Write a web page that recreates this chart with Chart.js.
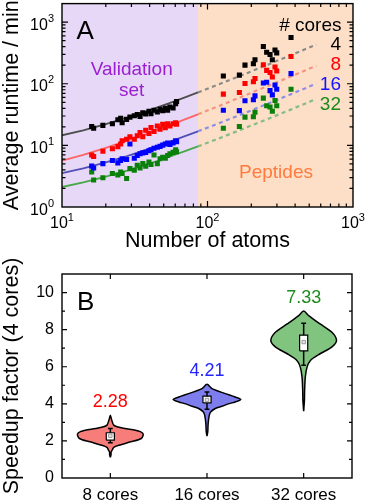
<!DOCTYPE html>
<html><head><meta charset="utf-8">
<script src="https://cdn.jsdelivr.net/npm/chart.js@4/dist/chart.umd.min.js"></script>
<style>
html,body{margin:0;padding:0;background:#fff;width:368px;height:502px;overflow:hidden}
canvas{display:block}
</style></head><body>
<canvas id="top" width="368" height="255"></canvas>
<canvas id="bot" width="368" height="247"></canvas>
<script>
// ---------- Panel A data ----------
const coreCounts = ['4', '8', '16', '32'];
const regionSplit = 86; // atoms: validation set | peptides
const valN  = [16, 16.5, 19.1, 22.2, 24.2, 25.3, 25.9, 27.8, 29.3, 31.4, 32.9, 34.4, 35.9, 37.6, 39.6, 40.9, 42.9, 45.2, 47.2, 49.2, 51.3, 53.2, 55.2, 58, 60.4, 61.3];
const val4  = [20.2, 19.0, 21.1, 22.5, 26.1, 27.4, 23.3, 26.4, 28.7, 30.2, 31.7, 29.4, 33.7, 32.5, 35.7, 32.6, 37.1, 35.0, 38.5, 36.7, 39.9, 37.1, 42.0, 40.5, 47.4, 51.6];
const val8  = [7.0, 6.6, 8.05, 8.8, 9.55, 10.5, 11.9, 12.6, 13.8, 12.6, 14.3, 16.2, 13.8, 17.6, 15.6, 19.4, 16.8, 20.6, 18.3, 21.9, 19.4, 22.5, 20.6, 22.5, 23.3, 22.0];
const val16 = [4.6, 4.3, 5.05, 5.7, 5.2, 5.7, 6.07, 5.9, 10.5, 6.2, 6.86, 7.3, 7.55, 7.7, 8.2, 8.5, 9.0, 9.3, 9.65, 10.1, 10.5, 10.9, 10.4, 11.0, 11.9, 11.5];
const val32 = [3.7, 2.74, 2.99, 3.5, 3.3, 3.7, 3.5, 2.9, 4.2, 3.95, 4.75, 4.3, 5.05, 4.6, 5.37, 4.9, 7.0, 5.05, 6.07, 6.4, 6.2, 6.86, 7.3, 7.7, 8.5, 7.9];
const pepN  = [128.5, 165.6, 181, 206.7, 212, 242, 255, 269, 279, 291, 299, 375];
const pep4  = [134, 138, 201, 211, 245, 403, 324, 298, 245, 354, 317, 562];
const pep8  = [67.8, 72.0, 101, 108, 122, 204, 165, 152, 129, 187, 161, 277];
const pep16 = [37.1, 36.7, 53, 55, 63.6, 103, 106, 77.4, 66, 95.3, 81.4, 146];
const pep32 = [19.0, 20.2, 28.7, 29.1, 34.5, 58.5, 44.1, 42.0, 35.8, 53.6, 44.1, 81.4];
const fitN  = [10, 14, 20, 28, 40, 56, 70, 86];
const fit4  = [14.6, 17.6, 22.2, 28.3, 37.4, 49.6, 60.2, 72.4];
const fit8  = [5.66, 7.04, 9.12, 11.9, 16.0, 21.6, 26.4, 31.9];
const fit16 = [3.55, 4.25, 5.31, 6.72, 8.83, 11.65, 14.1, 16.9];
const fit32 = [2.11, 2.51, 3.10, 3.89, 5.08, 6.66, 8.05, 9.63];
const extN  = [86, 120, 170, 250, 370, 560];
const ext4  = [72.4, 98.2, 136, 197, 288, 433];
const ext8  = [31.9, 43.7, 61.0, 88.7, 130, 196];
const ext16 = [16.9, 22.9, 31.7, 45.8, 66.9, 100.4];
const ext32 = [9.63, 13.0, 18.0, 25.9, 37.7, 56.6];
const xMajor = [10, 100, 1000];
const yMajor = [1, 10, 100, 1000];

// ---------- Panel B data ----------
const coreLabels = ['8 cores', '16 cores', '32 cores'];
const v8Y  = [1.11, 1.25, 1.4, 1.51, 1.65, 1.77, 1.95, 2.13, 2.37, 2.5, 2.58, 2.67, 2.76, 2.85, 3.03, 3.2, 3.39];
const v8W  = [0, 0.007, 0.008, 0.02, 0.035, 0.09, 0.21, 0.32, 0.34, 0.31, 0.26, 0.15, 0.07, 0.035, 0.02, 0.01, 0];
const v16Y = [2.26, 2.5, 2.94, 3.39, 3.57, 3.75, 3.87, 4.01, 4.10, 4.23, 4.37, 4.55, 4.82, 5.05];
const v16W = [0, 0.008, 0.012, 0.024, 0.04, 0.086, 0.155, 0.23, 0.29, 0.35, 0.29, 0.19, 0.052, 0];
const v32Y = [3.6, 4.2, 4.73, 5.45, 5.98, 6.34, 6.70, 7.06, 7.42, 7.87, 8.31, 8.76, 9.0];
const v32W = [0, 0.008, 0.01, 0.017, 0.035, 0.07, 0.17, 0.29, 0.34, 0.29, 0.17, 0.052, 0];
const boxQ1   = [2.04, 4.05, 6.86];
const boxQ3   = [2.44, 4.41, 7.70];
const whiskLo = [1.90, 3.71, 6.08];
const whiskHi = [2.67, 4.64, 8.35];
const speedupMean = [2.28, 4.21, 7.33];

// ---------- styles ----------
const FONT = "'Liberation Sans', Arial, Helvetica, sans-serif";
Chart.defaults.font.family = FONT;
Chart.defaults.color = '#000';
const seriesColors = ['#000000', '#FF0000', '#0000FF', '#0A800A'];
const fitColors = ['#4E4E4E', '#FF6464', '#5050B8', '#48A848'];
const extColors = ['#8A8A8A', '#F59383', '#8E8EE6', '#86BC86'];
const labelColors = ['#000000', '#FF0000', '#1414FF', '#1A8C1A'];
const violinFill = ['#F77D7B', '#7D7DEE', '#80C480'];
const meanColors = ['#FF0000', '#2424FF', '#1E8C1E'];

function ticksInside(ctx, a, scale, vals, len, horiz) {
  ctx.beginPath();
  vals.forEach(v => {
    const p = scale.getPixelForValue(v);
    if (horiz) {
      if (p <= a.left + 0.5 || p >= a.right - 0.5) return;
      ctx.moveTo(p, a.bottom); ctx.lineTo(p, a.bottom - len);
      ctx.moveTo(p, a.top); ctx.lineTo(p, a.top + len);
    } else {
      if (p >= a.bottom - 0.5 || p <= a.top + 0.5) return;
      ctx.moveTo(a.left, p); ctx.lineTo(a.left + len, p);
      ctx.moveTo(a.right, p); ctx.lineTo(a.right - len, p);
    }
  });
  ctx.stroke();
}
function logMinors(lo, hi) {
  const out = [];
  for (let d = lo; d < hi; d *= 10) for (let k = 2; k <= 9; k++) out.push(d * k);
  return out;
}

// ---------- Panel A ----------
const topDecor = {
  id: 'topDecor',
  beforeDatasetsDraw(chart) {
    const {ctx, chartArea: a, scales: {x}} = chart;
    const xs = x.getPixelForValue(regionSplit);
    ctx.save();
    ctx.fillStyle = '#E7D8F7';
    ctx.fillRect(a.left, a.top, xs - a.left, a.bottom - a.top);
    ctx.fillStyle = '#FDDFC7';
    ctx.fillRect(xs, a.top, a.right - xs, a.bottom - a.top);
    ctx.textAlign = 'center';
    ctx.textBaseline = 'alphabetic';
    ctx.font = '19px ' + FONT;
    ctx.fillStyle = '#9B1FD1';
    ctx.fillText('Validation', 131.7, 75);
    ctx.fillText('set', 131.7, 95.5);
    ctx.fillStyle = '#FF7A3C';
    ctx.fillText('Peptides', 276, 178.3);
    ctx.restore();
  },
  afterDatasetsDraw(chart) {
    const {ctx, chartArea: a, scales: {x, y}} = chart;
    ctx.save();
    ctx.strokeStyle = '#000';
    ctx.lineWidth = 1.2;
    ticksInside(ctx, a, x, xMajor, 6, true);
    ticksInside(ctx, a, x, logMinors(10, 1000), 3.5, true);
    ticksInside(ctx, a, y, yMajor, 6, false);
    ticksInside(ctx, a, y, logMinors(1, 1000), 3.5, false);
    ctx.lineWidth = 1.4;
    ctx.strokeRect(a.left, a.top, a.right - a.left, a.bottom - a.top);
    // panel letter and legend
    ctx.fillStyle = '#000';
    ctx.textBaseline = 'alphabetic';
    ctx.textAlign = 'left';
    ctx.font = '26px ' + FONT;
    ctx.fillText('A', 76.5, 39.3);
    ctx.textAlign = 'right';
    ctx.font = '19px ' + FONT;
    ctx.fillText('# cores', 341.5, 30.7);
    coreCounts.forEach((c, i) => {
      ctx.fillStyle = labelColors[i];
      ctx.fillText(c, 341, 50 + 20 * i);
    });
    ctx.restore();
  },
  afterDraw(chart) {
    const {ctx, scales: {x, y}} = chart;
    ctx.save();
    ctx.fillStyle = '#000';
    ctx.textBaseline = 'alphabetic';
    ctx.textAlign = 'left';
    const big = '16px ' + FONT, small = '11px ' + FONT;
    xMajor.forEach(v => {
      const e = String(Math.round(Math.log10(v)));
      ctx.font = big; const w1 = ctx.measureText('10').width;
      ctx.font = small; const w2 = ctx.measureText(e).width;
      const p = x.getPixelForValue(v);
      const s = p - (w1 + w2) / 2;
      ctx.font = big; ctx.fillText('10', s, 228.3);
      ctx.font = small; ctx.fillText(e, s + w1, 220.5);
    });
    yMajor.forEach(v => {
      const e = String(Math.round(Math.log10(v)));
      ctx.font = big; const w1 = ctx.measureText('10').width;
      ctx.font = small; const w2 = ctx.measureText(e).width;
      const p = y.getPixelForValue(v);
      const s = 54 - (w1 + w2);
      ctx.font = big; ctx.fillText('10', s, p + 7.6);
      ctx.font = small; ctx.fillText(e, s + w1, p - 0.5);
    });
    ctx.restore();
  }
};

const valSets = [val4, val8, val16, val32];
const pepSets = [pep4, pep8, pep16, pep32];
const fitSets = [fit4, fit8, fit16, fit32];
const extSets = [ext4, ext8, ext16, ext32];
const topDatasets = [];
coreCounts.forEach((c, i) => {
  topDatasets.push({
    label: c + ' cores',
    data: valN.map((n, j) => ({x: n, y: valSets[i][j]})).concat(pepN.map((n, j) => ({x: n, y: pepSets[i][j]}))),
    showLine: false, pointStyle: 'rect', pointRadius: 3.6, pointHoverRadius: 3.6,
    backgroundColor: seriesColors[i], borderWidth: 0, order: 0
  });
});
coreCounts.forEach((c, i) => {
  topDatasets.push({
    label: c + ' fit',
    data: fitN.map((n, j) => ({x: n, y: fitSets[i][j]})),
    showLine: true, pointRadius: 0, borderColor: fitColors[i], borderWidth: 1.8, tension: 0, order: 1
  });
  topDatasets.push({
    label: c + ' extrapolation',
    data: extN.map((n, j) => ({x: n, y: extSets[i][j]})),
    showLine: true, pointRadius: 0, borderColor: extColors[i], borderWidth: 2.2, borderDash: [4, 3.5], tension: 0, order: 1
  });
});

new Chart(document.getElementById('top'), {
  type: 'scatter',
  data: {datasets: topDatasets},
  options: {
    responsive: false, animation: false, devicePixelRatio: 1,
    layout: {padding: {top: 2.5, right: 15, left: 0, bottom: 0}},
    plugins: {legend: {display: false}, tooltip: {enabled: false}},
    scales: {
      x: {
        type: 'logarithmic', min: 10, max: 1000,
        grid: {display: false, drawTicks: false}, border: {display: false},
        ticks: {display: false},
        afterFit: s => { s.height = 48; },
        title: {display: true, text: 'Number of atoms', font: {size: 21.5, lineHeight: 1.2}, padding: {top: 0, bottom: 1}}
      },
      y: {
        type: 'logarithmic', min: 1, max: 2000,
        grid: {display: false, drawTicks: false}, border: {display: false},
        ticks: {display: false},
        afterFit: s => { s.width = 62; },
        title: {display: true, text: 'Average runtime / min', font: {size: 21.5, lineHeight: 1.1}, padding: {top: 0, bottom: 0}}
      }
    }
  },
  plugins: [topDecor]
});

// ---------- Panel B ----------
const violinYs = [v8Y, v16Y, v32Y];
const violinWs = [v8W, v16W, v32W];
function violinOutline(c, ys, ws) {
  const left = ys.map((y, i) => ({x: c - ws[i], y}));
  const right = ys.map((y, i) => ({x: c + ws[i], y})).reverse();
  return left.concat(right.slice(1));
}
const boxHalf = 0.042, capHalf = 0.025;
const botDatasets = [];
coreLabels.forEach((lab, i) => {
  const c = i + 1;
  botDatasets.push({
    label: lab + ' violin', data: violinOutline(c, violinYs[i], violinWs[i]),
    showLine: true, fill: 'shape', backgroundColor: violinFill[i], borderColor: '#000', borderWidth: 1.5,
    pointRadius: 0, tension: 0.3, order: 3
  });
  botDatasets.push({
    label: lab + ' whiskers',
    data: [{x: c - capHalf, y: whiskHi[i]}, {x: c + capHalf, y: whiskHi[i]}, {x: c, y: whiskHi[i]},
           {x: c, y: whiskLo[i]}, {x: c - capHalf, y: whiskLo[i]}, {x: c + capHalf, y: whiskLo[i]}],
    showLine: true, borderColor: '#000', borderWidth: 1.5, pointRadius: 0, tension: 0, order: 2
  });
  botDatasets.push({
    label: lab + ' box',
    data: [{x: c - boxHalf, y: boxQ1[i]}, {x: c + boxHalf, y: boxQ1[i]}, {x: c + boxHalf, y: boxQ3[i]},
           {x: c - boxHalf, y: boxQ3[i]}, {x: c - boxHalf, y: boxQ1[i]}],
    showLine: true, fill: 'shape', backgroundColor: '#FFFFFF', borderColor: '#000', borderWidth: 1.2,
    pointRadius: 0, tension: 0, order: 1
  });
  botDatasets.push({
    label: lab + ' mean', data: [{x: c, y: speedupMean[i]}],
    showLine: false, pointStyle: 'rect', pointRadius: 2.4, backgroundColor: '#E6E6E6', borderColor: '#9A9A9A', borderWidth: 1, order: 0
  });
});

const botDecor = {
  id: 'botDecor',
  afterDatasetsDraw(chart) {
    const {ctx, chartArea: a, scales: {x, y}} = chart;
    ctx.save();
    ctx.strokeStyle = '#000';
    ctx.lineWidth = 1.2;
    ticksInside(ctx, a, x, [1, 2, 3], 5, true);
    ticksInside(ctx, a, y, [2, 4, 6, 8, 10], 5, false);
    ticksInside(ctx, a, y, [1, 3, 5, 7, 9], 3, false);
    ctx.lineWidth = 1.4;
    ctx.strokeRect(a.left, a.top, a.right - a.left, a.bottom - a.top);
    ctx.fillStyle = '#000';
    ctx.textAlign = 'left';
    ctx.textBaseline = 'alphabetic';
    ctx.font = '26px ' + FONT;
    ctx.fillText('B', 77, 55);
    ctx.textAlign = 'center';
    ctx.font = '18px ' + FONT;
    speedupMean.forEach((m, i) => {
      const top = Math.max(...violinYs[i]);
      ctx.fillStyle = meanColors[i];
      ctx.fillText(m.toFixed(2), x.getPixelForValue(i + 1), y.getPixelForValue(top) - 8);
    });
    ctx.restore();
  }
};

new Chart(document.getElementById('bot'), {
  type: 'scatter',
  data: {datasets: botDatasets},
  options: {
    responsive: false, animation: false, devicePixelRatio: 1,
    layout: {padding: {top: 19, right: 16, left: 0, bottom: 0}},
    plugins: {legend: {display: false}, tooltip: {enabled: false}},
    scales: {
      x: {
        type: 'linear', min: 0.5, max: 3.5,
        grid: {display: false, drawTicks: false}, border: {display: false},
        afterBuildTicks: s => { s.ticks = [1, 2, 3].map(v => ({value: v})); },
        ticks: {autoSkip: false, maxRotation: 0, padding: 7, font: {size: 17}, callback: v => coreLabels[v - 1]},
        afterFit: s => { s.height = 24; }
      },
      y: {
        type: 'linear', min: 0, max: 11,
        grid: {display: false, drawTicks: false}, border: {display: false},
        ticks: {stepSize: 1, autoSkip: false, padding: 8, font: {size: 16}, callback: v => (v % 2 === 0 ? String(v) : '')},
        afterFit: s => { s.width = 62; },
        title: {display: true, text: 'Speedup factor (4 cores)', font: {size: 21.5, lineHeight: 1.1}, padding: {top: 0, bottom: 0}}
      }
    }
  },
  plugins: [botDecor]
});
</script>
</body></html>
